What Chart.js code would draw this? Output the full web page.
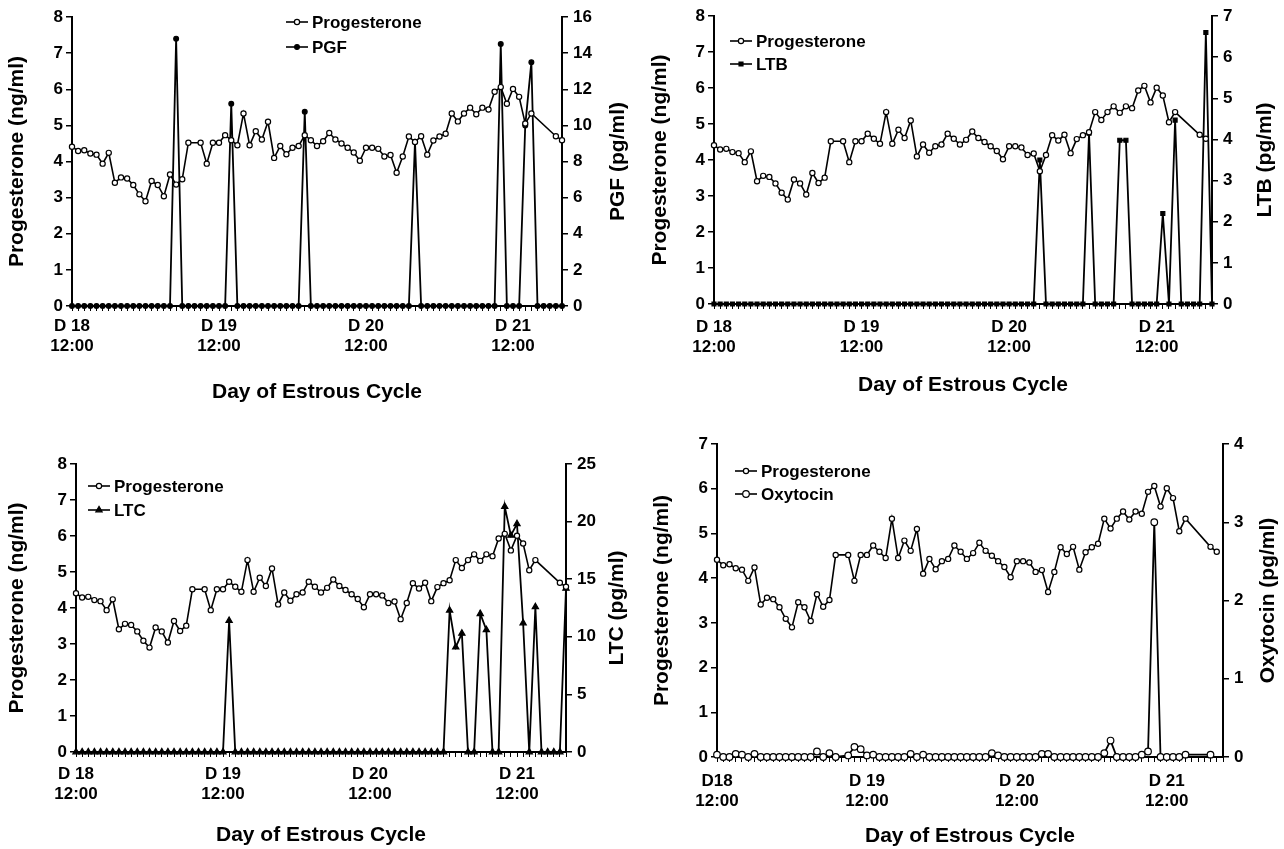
<!DOCTYPE html>
<html>
<head>
<meta charset="utf-8">
<title>Progesterone and uterine secretions, D18 to D21</title>
<script src="https://cdn.jsdelivr.net/npm/chart.js@4.4.1/dist/chart.umd.min.js"></script>
<style>
  html, body { margin: 0; padding: 0; background: #fff; }
  body { width: 1284px; height: 849px; position: relative; overflow: hidden; }
  canvas { position: absolute; }
</style>
</head>
<body>
<canvas id="pgfChart" width="642" height="424" style="left:0;top:0"></canvas>
<canvas id="ltbChart" width="642" height="424" style="left:642px;top:0"></canvas>
<canvas id="ltcChart" width="642" height="425" style="left:0;top:424px"></canvas>
<canvas id="oxyChart" width="642" height="425" style="left:642px;top:424px"></canvas>
<script>
// hourly samples, D18 12:00 (index 0) to D21 20:00 (index 80)
const dayTickIndex = [0, 24, 48, 72];
const dayTickText = [["D 18", "12:00"], ["D 19", "12:00"], ["D 20", "12:00"], ["D 21", "12:00"]];
const dayTickTextOxy = [["D18", "12:00"], ["D 19", "12:00"], ["D 20", "12:00"], ["D 21", "12:00"]];

const progesterone = [
  4.41, 4.29, 4.31, 4.22, 4.19, 3.94, 4.24, 3.41, 3.56, 3.53,
  3.35, 3.09, 2.90, 3.46, 3.35, 3.04, 3.64, 3.36, 3.51, 4.52,
  null, 4.52, 3.94, 4.52, 4.52, 4.73, 4.59, 4.45, 5.33, 4.45,
  4.84, 4.61, 5.10, 4.10, 4.43, 4.20, 4.38, 4.43, 4.73, 4.59,
  4.43, 4.56, 4.79, 4.61, 4.50, 4.38, 4.25, 4.02, 4.38, 4.38,
  4.35, 4.14, 4.18, 3.69, 4.14, 4.69, 4.54, 4.70, 4.19, 4.58,
  4.69, 4.77, 5.33, 5.11, 5.33, 5.49, 5.31, 5.49, 5.44, 5.93,
  6.06, 5.60, 6.01, 5.79, 5.05, 5.33, null, null, null, 4.70,
  4.59
];

const pgf = [
  0, 0, 0, 0, 0, 0, 0, 0, 0, 0,
  0, 0, 0, 0, 0, 0, 0, 14.8, 0, 0,
  0, 0, 0, 0, 0, 0, 11.2, 0, 0, 0,
  0, 0, 0, 0, 0, 0, 0, 0, 10.75, 0,
  0, 0, 0, 0, 0, 0, 0, 0, 0, 0,
  0, 0, 0, 0, 0, 0, 9.1, 0, 0, 0,
  0, 0, 0, 0, 0, 0, 0, 0, 0, 0,
  14.5, 0, 0, 0, 10.0, 13.5, 0, 0, 0, 0,
  0
];

const ltb = [
  0, 0, 0, 0, 0, 0, 0, 0, 0, 0,
  0, 0, 0, 0, 0, 0, 0, 0, 0, 0,
  0, 0, 0, 0, 0, 0, 0, 0, 0, 0,
  0, 0, 0, 0, 0, 0, 0, 0, 0, 0,
  0, 0, 0, 0, 0, 0, 0, 0, 0, 0,
  0, 0, 0, 3.5, 0, 0, 0, 0, 0, 0,
  0, 4.15, 0, 0, 0, 0, 3.98, 3.98, 0, 0,
  0, 0, 0, 2.2, 0, 4.47, 0, 0, 0, 0,
  6.6, 0
];

const ltc = [
  0, 0, 0, 0, 0, 0, 0, 0, 0, 0,
  0, 0, 0, 0, 0, 0, 0, 0, 0, 0,
  0, 0, 0, 0, 0, 11.4, 0, 0, 0, 0,
  0, 0, 0, 0, 0, 0, 0, 0, 0, 0,
  0, 0, 0, 0, 0, 0, 0, 0, 0, 0,
  0, 0, 0, 0, 0, 0, 0, 0, 0, 0,
  0, 12.3, 9.1, 10.3, 0, 0, 12.0, 10.6, 0, 0,
  21.3, 18.8, 19.8, 11.2, 0, 12.6, 0, 0, 0, 0,
  14.2
];

const oxytocin = [
  0.03, 0, 0, 0.04, 0.03, 0, 0.04, 0, 0, 0,
  0, 0, 0, 0, 0, 0, 0.07, 0, 0.05, 0,
  null, 0.02, 0.13, 0.10, 0.02, 0.03, 0, 0, 0, 0,
  0, 0.04, 0, 0.03, 0, 0, 0, 0, 0, 0,
  0, 0, 0, 0, 0.05, 0.02, 0, 0, 0, 0,
  0, 0, 0.04, 0.04, 0, 0, 0, 0, 0, 0,
  0, 0, 0.05, 0.21, 0, 0, 0, 0, 0.03, 0.07,
  3.0, 0, 0, 0, 0, 0.03, null, null, null, 0.03,
  null
];

const FONT = '"Liberation Sans", Arial, Helvetica, sans-serif';
Chart.defaults.font.family = FONT;
Chart.defaults.font.weight = "bold";
Chart.defaults.color = "#000";

function hourLabels(count, texts) {
  const labels = [];
  for (let i = 0; i < count; i++) {
    const k = dayTickIndex.indexOf(i);
    labels.push(k >= 0 ? texts[k] : "");
  }
  return labels;
}

function drawMarker(ctx, ds, x, y) {
  ctx.save();
  ctx.fillStyle = ds.pointBackgroundColor;
  ctx.strokeStyle = ds.pointBorderColor;
  ctx.lineWidth = ds.pointBorderWidth;
  Chart.helpers.drawPoint(ctx, {
    pointStyle: ds.pointStyle,
    radius: ds.pointRadius,
    borderWidth: ds.pointBorderWidth,
    rotation: 0,
  }, x, y);
  ctx.restore();
}

// legend stacked inside the plot, like the original figure
const insideLegend = {
  id: "insideLegend",
  afterDraw(chart, args, opts) {
    const { ctx, chartArea } = chart;
    const x0 = chartArea.left + opts.x;
    let y = chartArea.top + opts.y;
    ctx.save();
    ctx.font = `bold 17px ${FONT}`;
    ctx.textBaseline = "middle";
    ctx.textAlign = "left";
    chart.data.datasets.forEach((ds) => {
      ctx.strokeStyle = "#000";
      ctx.lineWidth = 1.6;
      ctx.beginPath();
      ctx.moveTo(x0, y);
      ctx.lineTo(x0 + 22, y);
      ctx.stroke();
      drawMarker(ctx, ds, x0 + 11, y);
      ctx.fillStyle = "#000";
      ctx.fillText(ds.label, x0 + 26, y + 1);
      y += opts.rowGap;
    });
    ctx.restore();
  },
};

// right axis title reads bottom-to-top in the original
const rightTitle = {
  id: "rightTitle",
  afterDraw(chart, args, opts) {
    const scale = chart.scales.yR;
    const { ctx } = chart;
    ctx.save();
    ctx.font = `bold 21px ${FONT}`;
    ctx.fillStyle = "#000";
    ctx.textAlign = "center";
    ctx.textBaseline = "middle";
    ctx.translate(scale.right - opts.pad - 12.6, (scale.top + scale.bottom) / 2);
    ctx.rotate(-Math.PI / 2);
    ctx.fillText(opts.text, 0, 0);
    ctx.restore();
  },
};

function progesteroneSet() {
  return {
    label: "Progesterone",
    data: progesterone,
    yAxisID: "yL",
    borderColor: "#000",
    borderWidth: 1.6,
    pointStyle: "circle",
    pointRadius: 2.6,
    pointBackgroundColor: "#fff",
    pointBorderColor: "#000",
    pointBorderWidth: 1.2,
    spanGaps: true,
    tension: 0,
    clip: false,
  };
}

function secondSet(label, data, style, radius, fill) {
  return {
    label,
    data,
    yAxisID: "yR",
    borderColor: "#000",
    borderWidth: 1.8,
    pointStyle: style,
    pointRadius: radius,
    pointBackgroundColor: fill,
    pointBorderColor: "#000",
    pointBorderWidth: 1.2,
    spanGaps: true,
    tension: 0,
    clip: false,
  };
}

function makePanel(id, p) {
  const tickFont = { size: 17, weight: "bold" };
  return new Chart(document.getElementById(id), {
    type: "line",
    data: {
      labels: hourLabels(p.count, p.dayText),
      datasets: [progesteroneSet(), p.second],
    },
    options: {
      responsive: false,
      animation: false,
      devicePixelRatio: 1,
      layout: { padding: { top: p.top, left: 0, right: 0, bottom: 0 } },
      plugins: {
        legend: { display: false },
        tooltip: { enabled: false },
        insideLegend: p.legend,
        rightTitle: { text: p.rightText, pad: p.rightPad },
      },
      scales: {
        x: {
          type: "category",
          offset: false,
          grid: { drawOnChartArea: false, tickLength: 5, color: "#000", lineWidth: 1 },
          border: { color: "#000", width: 2 },
          ticks: { autoSkip: false, maxRotation: 0, minRotation: 0, padding: p.xTickPad, font: tickFont, color: "#000" },
          title: {
            display: true,
            text: "Day of Estrous Cycle",
            font: { size: 21, weight: "bold" },
            color: "#000",
            padding: { top: 0, bottom: p.xTitlePad },
          },
          afterFit(scale) { scale.height = p.xH; },
        },
        yL: {
          type: "linear",
          position: "left",
          min: 0,
          max: p.leftMax,
          grid: { drawOnChartArea: false, tickLength: 6, color: "#000", lineWidth: 1.5 },
          border: { color: "#000", width: 2 },
          ticks: { stepSize: 1, padding: 3, font: tickFont, color: "#000" },
          title: {
            display: true,
            text: "Progesterone (ng/ml)",
            font: { size: 21, weight: "bold" },
            color: "#000",
            padding: { top: p.leftPad, bottom: 0 },
          },
          afterFit(scale) { scale.width = p.leftW; },
        },
        yR: {
          type: "linear",
          position: "right",
          min: 0,
          max: p.rightMax,
          grid: { drawOnChartArea: false, tickLength: 6, color: "#000", lineWidth: 1.5 },
          border: { color: "#000", width: 2 },
          ticks: { stepSize: p.rightStep, padding: 5, font: tickFont, color: "#000" },
          afterFit(scale) { scale.width = p.rightW; },
        },
      },
    },
    plugins: [insideLegend, rightTitle],
  });
}

makePanel("pgfChart", {
  count: 81, dayText: dayTickText,
  second: secondSet("PGF", pgf, "circle", 2.4, "#000"),
  leftMax: 8, rightMax: 16, rightStep: 2,
  top: 17, leftW: 72, rightW: 80, xH: 118,
  leftPad: 5, rightPad: 11, xTickPad: 5, xTitlePad: 19,
  rightText: "PGF (pg/ml)",
  legend: { x: 214, y: 5, rowGap: 25 },
});

makePanel("ltbChart", {
  count: 82, dayText: dayTickText,
  second: secondSet("LTB", ltb, "rect", 2.8, "#000"),
  leftMax: 8, rightMax: 7, rightStep: 1,
  top: 16, leftW: 72, rightW: 72, xH: 120,
  leftPad: 6, rightPad: 6, xTickPad: 8, xTitlePad: 26,
  rightText: "LTB (pg/ml)",
  legend: { x: 16, y: 25, rowGap: 23 },
});

makePanel("ltcChart", {
  count: 81, dayText: dayTickText,
  second: secondSet("LTC", ltc, "triangle", 3.6, "#000"),
  leftMax: 8, rightMax: 25, rightStep: 5,
  top: 40, leftW: 76, rightW: 76, xH: 97,
  leftPad: 5, rightPad: 12, xTickPad: 7, xTitlePad: 1,
  rightText: "LTC (pg/ml)",
  legend: { x: 12, y: 22, rowGap: 24 },
});

makePanel("oxyChart", {
  count: 82, dayText: dayTickTextOxy,
  second: secondSet("Oxytocin", oxytocin, "circle", 3.3, "#fff"),
  leftMax: 7, rightMax: 4, rightStep: 1,
  top: 20, leftW: 75, rightW: 61, xH: 92,
  leftPad: 8, rightPad: 3, xTickPad: 9, xTitlePad: 0,
  rightText: "Oxytocin (pg/ml)",
  legend: { x: 18, y: 27, rowGap: 23 },
});
</script>
</body>
</html>
